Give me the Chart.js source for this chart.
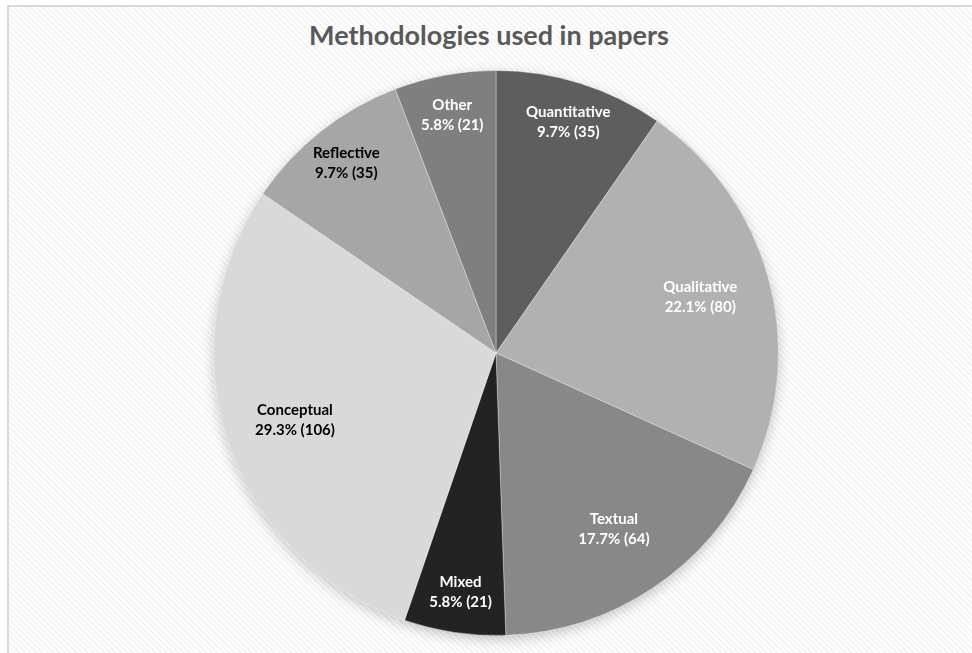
<!DOCTYPE html>
<html lang="en">
<head>
    <meta charset="UTF-8">
    <title>Methodologies used in papers</title>
    <script src="https://cdn.jsdelivr.net/npm/chart.js"></script>
    <style>
        html, body { margin: 0; padding: 0; }
        body {
            width: 972px;
            height: 653px;
            overflow: hidden;
            background: #ffffff;
        }
        /* chart frame, right and bottom edges fall outside the window */
        #frame {
            position: absolute;
            left: 7px;
            top: 5px;
            width: 980px;
            height: 660px;
            border: 2px solid #d9d9d9;
            box-sizing: border-box;
            background: repeating-linear-gradient(45deg, #ffffff 0px, #ffffff 2px, #f5f5f5 2px, #f5f5f5 4px);
        }
        #title {
            position: absolute;
            left: 0;
            width: 978px;
            top: 18px;
            text-align: center;
            font-family: Lato, sans-serif;
            font-weight: bold;
            font-size: 27px;
            color: #595959;
        }
        #chartBox {
            position: absolute;
            left: 0;
            top: 0;
            width: 972px;
            height: 653px;
        }
    </style>
</head>
<body>
    <div id="frame"></div>
    <div id="title">Methodologies used in papers</div>
    <div id="chartBox"><canvas id="pieChart"></canvas></div>

    <script>
        // data
        const categories = ['Quantitative', 'Qualitative', 'Textual', 'Mixed', 'Conceptual', 'Reflective', 'Other'];
        const paperCounts = [35, 80, 64, 21, 106, 35, 21];

        const sliceColors = ['#5e5e5e', '#b1b1b1', '#888888', '#232323', '#d9d9d9', '#a6a6a6', '#7f7f7f'];
        const labelColors = ['#ffffff', '#ffffff', '#ffffff', '#ffffff', '#000000', '#000000', '#ffffff'];

        // soft shadow under the whole pie
        const pieShadow = {
            id: 'pieShadow',
            beforeDatasetsDraw(chart) {
                const arc = chart.getDatasetMeta(0).data[0];
                if (!arc) return;
                const ctx = chart.ctx;
                ctx.save();
                ctx.shadowColor = 'rgba(0,0,0,0.25)';
                ctx.shadowBlur = 14;
                ctx.shadowOffsetY = 4;
                ctx.fillStyle = '#cccccc';
                ctx.beginPath();
                ctx.arc(arc.x, arc.y, arc.outerRadius - 1, 0, Math.PI * 2);
                ctx.fill();
                ctx.restore();
            }
        };

        // labels inside slices: name on top, then percent and count
        const sliceLabels = {
            id: 'sliceLabels',
            afterDatasetsDraw(chart) {
                const ctx = chart.ctx;
                const data = chart.data.datasets[0].data;
                const total = data.reduce((a, b) => a + b, 0);
                chart.getDatasetMeta(0).data.forEach((arc, i) => {
                    const share = data[i] / total;
                    const mid = (arc.startAngle + arc.endAngle) / 2;
                    const r = arc.outerRadius * (share < 0.12 ? 0.855 : 0.75);
                    const x = arc.x + Math.cos(mid) * r;
                    const y = arc.y + Math.sin(mid) * r;
                    ctx.save();
                    ctx.fillStyle = labelColors[i];
                    ctx.font = 'bold 15px Lato, sans-serif';
                    ctx.textAlign = 'center';
                    ctx.textBaseline = 'middle';
                    ctx.fillText(categories[i], x, y - 10);
                    ctx.fillText((share * 100).toFixed(1) + '% (' + data[i] + ')', x, y + 10);
                    ctx.restore();
                });
            }
        };

        const ctx = document.getElementById('pieChart').getContext('2d');
        const chart = new Chart(ctx, {
            type: 'pie',
            data: {
                labels: categories,
                datasets: [{
                    data: paperCounts,
                    backgroundColor: sliceColors,
                    borderColor: 'rgba(255,255,255,0.35)',
                    borderWidth: 1
                }]
            },
            options: {
                responsive: true,
                maintainAspectRatio: false,
                animation: false,
                layout: {
                    padding: { left: 213, right: 193, top: 70, bottom: 17 }
                },
                plugins: {
                    legend: { display: false },
                    tooltip: { enabled: false }
                }
            },
            plugins: [pieShadow, sliceLabels]
        });
    </script>
</body>
</html>
